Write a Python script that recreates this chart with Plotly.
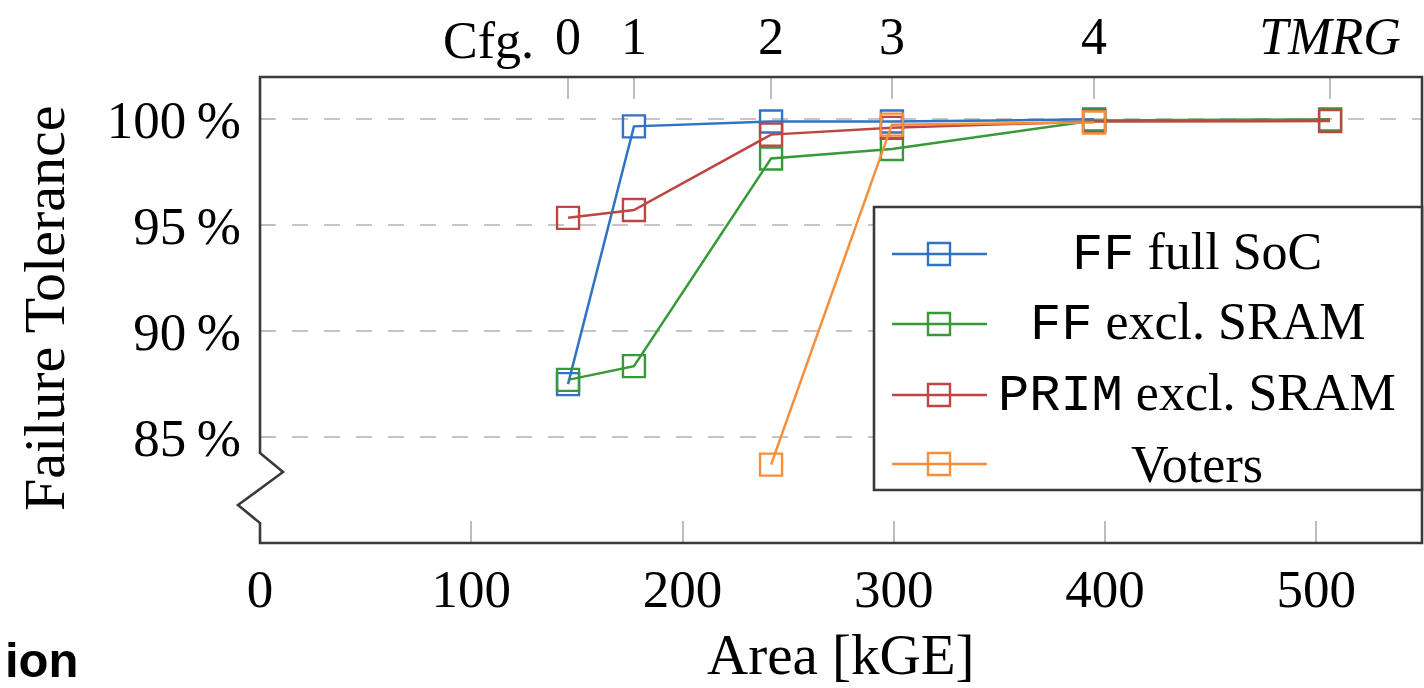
import plotly.graph_objects as go

# ---------------- data ----------------
cfg_x = [145.8, 177.0, 241.9, 299.1, 394.8, 506.5]
cfg_labels = ["0", "1", "2", "3", "4", "<i>TMRG</i>"]

ff_full_x = cfg_x[:5]
ff_full_y = [87.5, 99.67, 99.9, 99.9, 100.0]

ff_excl_x = cfg_x
ff_excl_y = [87.7, 88.35, 98.15, 98.6, 99.95, 100.0]

prim_excl_x = cfg_x
prim_excl_y = [95.35, 95.72, 99.28, 99.6, 99.9, 99.92]

voters_x = cfg_x[2:5]
voters_y = [83.7, 99.75, 99.85]

x_ticks = [0, 100, 200, 300, 400, 500]
y_ticks = [85, 90, 95, 100]
y_tick_labels = ["85\u2009%", "90\u2009%", "95\u2009%", "100\u2009%"]

MONO = "font-family:'Liberation Mono',monospace"
series_names = [
    f"<span style=\"{MONO}\">FF</span> full SoC",
    f"<span style=\"{MONO}\">FF</span> excl. SRAM",
    f"<span style=\"{MONO}\">PRIM</span> excl. SRAM",
    "Voters",
]
series_colors = ["#3073c2", "#379937", "#bd4643", "#f68f3a"]

# ---------------- layout geometry (pixels) ----------------
FW, FH = 1424, 688
PL, PR, PT, PB = 260, 1422, 77, 543
W, H = PR - PL, PB - PT


def px(xp):
    return (xp - PL) / W


def py(yp):
    return (PB - yp) / H


SERIF = "Liberation Serif, Times New Roman, serif"
FRAME = "#3a3a3a"
TICKC = "#bdbdbd"

fig = go.Figure()

series = [
    (ff_full_x, ff_full_y),
    (ff_excl_x, ff_excl_y),
    (prim_excl_x, prim_excl_y),
    (voters_x, voters_y),
]
for (xs, ys), name, col in zip(series, series_names, series_colors):
    fig.add_trace(go.Scatter(
        x=xs, y=ys, name=name, mode="lines+markers",
        line=dict(color=col, width=2.5),
        marker=dict(symbol="square-open", size=22, color=col,
                    line=dict(width=2.4, color=col)),
        showlegend=False, cliponaxis=False,
    ))

# invisible trace to anchor top axis
fig.add_trace(go.Scatter(x=cfg_x, y=[None] * len(cfg_x), xaxis="x2",
                         mode="markers", showlegend=False, hoverinfo="skip"))

shapes = []
# frame with broken left axis (zigzag)
shapes.append(dict(
    type="path", xref="paper", yref="paper", layer="above",
    path=(f"M {px(PL)},{py(453)} L {px(283)},{py(472)} L {px(238)},{py(505)} "
          f"L {px(PL)},{py(523)} L {px(PL)},{py(PB)} L {px(PR)},{py(PB)} "
          f"L {px(PR)},{py(PT)} L {px(PL)},{py(PT)} Z"),
    line=dict(color=FRAME, width=2.6),
))
# legend box
LX0, LX1, LY0, LY1 = 874, PR, 207, 490
shapes.append(dict(
    type="rect", xref="paper", yref="paper", layer="above",
    x0=px(LX0), x1=px(LX1), y0=py(LY1), y1=py(LY0),
    fillcolor="white", line=dict(color=FRAME, width=2.6),
))
rows = [254, 324, 395, 464]
annotations = []
for name, col, ry in zip(series_names, series_colors, rows):
    shapes.append(dict(type="line", xref="paper", yref="paper", layer="above",
                       x0=px(892), x1=px(987), y0=py(ry), y1=py(ry),
                       line=dict(color=col, width=2.5)))
    shapes.append(dict(type="rect", xref="paper", yref="paper", layer="above",
                       x0=px(939 - 11), x1=px(939 + 11),
                       y0=py(ry + 11), y1=py(ry - 11),
                       line=dict(color=col, width=2.4)))
    annotations.append(dict(xref="paper", yref="paper", x=px(1197), y=py(ry),
                            text=name, showarrow=False, xanchor="center",
                            yanchor="middle",
                            font=dict(family=SERIF, size=52, color="black")))

# "Cfg." prefix on top axis
annotations.append(dict(xref="paper", yref="paper", x=px(536), y=py(40),
                        text="Cfg.", showarrow=False, xanchor="right",
                        yanchor="middle",
                        font=dict(family=SERIF, size=52, color="black")))
# axis titles
annotations.append(dict(xref="paper", yref="paper", x=px(840), y=py(654),
                        text="Area [kGE]", showarrow=False, xanchor="center",
                        yanchor="middle",
                        font=dict(family=SERIF, size=57, color="black")))
annotations.append(dict(xref="paper", yref="paper", x=px(44), y=py(308),
                        text="Failure Tolerance", showarrow=False,
                        textangle=-90, xanchor="center", yanchor="middle",
                        font=dict(family=SERIF, size=58, color="black")))
# cropped caption fragment
annotations.append(dict(xref="paper", yref="paper", x=px(3), y=py(660),
                        text="<b>ion</b>", showarrow=False, xanchor="left",
                        yanchor="middle",
                        font=dict(family="Liberation Sans, Arial, sans-serif",
                                  size=49, color="black")))

fig.update_layout(
    width=FW, height=FH,
    margin=dict(l=PL, r=FW - PR, t=PT, b=FH - PB, autoexpand=False),
    paper_bgcolor="white", plot_bgcolor="white",
    font=dict(family=SERIF, size=52, color="black"),
    showlegend=False,
    xaxis=dict(range=[0, 550], tickvals=x_ticks, ticks="inside", ticklen=22,
               tickwidth=1.6, tickcolor=TICKC, showgrid=False, zeroline=False,
               showline=False, ticklabelstandoff=10,
               tickfont=dict(family=SERIF, size=53)),
    xaxis2=dict(range=[0, 550], overlaying="x", side="top", anchor="y",
                tickvals=cfg_x, ticktext=cfg_labels, ticks="inside",
                ticklen=22, tickwidth=1.6, tickcolor=TICKC, showgrid=False,
                zeroline=False, showline=False, ticklabelstandoff=12,
                tickfont=dict(family=SERIF, size=52)),
    yaxis=dict(range=[80, 102], tickvals=y_ticks, ticktext=y_tick_labels,
               ticks="inside", ticklen=14, tickwidth=1.6, tickcolor=TICKC,
               showgrid=True, gridcolor="#c6c6c6", gridwidth=2,
               griddash="16px,16px", zeroline=False, showline=False,
               ticklabelstandoff=18, tickfont=dict(family=SERIF, size=53)),
    shapes=shapes,
    annotations=annotations,
)

fig.write_html("out.html",
               config={"displayModeBar": False},
               post_script="document.body.style.margin='0';"
                           "document.body.style.overflow='hidden';")
